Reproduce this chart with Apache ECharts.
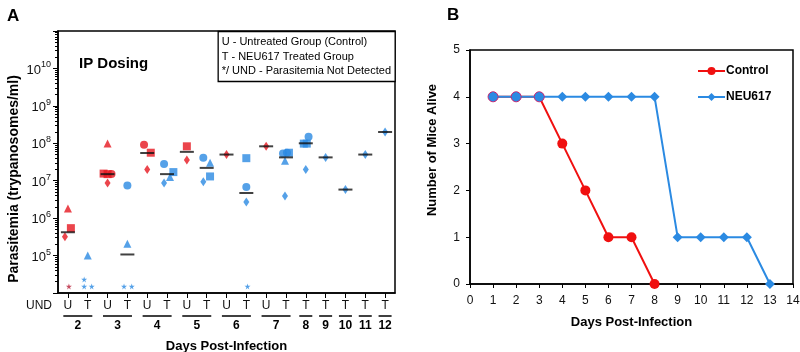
<!DOCTYPE html>
<html>
<head>
<meta charset="utf-8">
<script src="https://cdn.jsdelivr.net/npm/echarts@6/dist/echarts.min.js"></script>
<style>html,body{margin:0;padding:0;background:#fff}#main{width:800px;height:352px}</style>
</head>
<body>
<div id="main"></div>
<script>
/* Panel A: one point per mouse. x = slot index (0 = day 2 U ... 16 = day 12 T) plus a little jitter, y = trypanosomes/ml */
var SLOT_LABELS = ['U','T','U','T','U','T','U','T','U','T','U','T','T','T','T','T','T'];
var DAY_LABELS = ['2','3','4','5','6','7','8','9','10','11','12'];
var DAY_SLOTS = [2,2,2,2,2,2,1,1,1,1,1];
var EXPONENTS = [5,6,7,8,9,10];

var U_CIRCLE = [[2.2,1.5e7],[3.84,9.2e7]];
var U_SQUARE = [[0.15,5.4e5],[1.8,1.55e7],[2.0,1.5e7],[4.18,5.6e7],[6,8.3e7]];
var U_TRIANGLE = [[0,1.8e6],[2,9.8e7]];
var U_DIAMOND = [[-0.15,3.2e5],[2,8.7e6],[4,2.0e7],[6,3.6e7],[8,5.0e7],[10,8.3e7]];
var U_UND = [[0.05,1.5e4]];
var U_MEDIAN = [[0,4.2e5],[2,1.5e7],[4,5.5e7],[6,5.9e7],[8,5.0e7],[10,8.3e7]];

var T_CIRCLE = [[3,7.5e6],[4.85,2.8e7],[6.83,4.1e7],[9,6.8e6],[10.85,5.3e7],[11.05,5.6e7],[12.14,1.5e8]];
var T_SQUARE = [[5.32,1.7e7],[7.17,1.3e7],[9,4.0e7],[11.15,5.6e7],[11.9,9.8e7],[12.05,9.8e7]];
var T_TRIANGLE = [[1,1.0e5],[3,2.07e5],[5.15,1.25e7],[7.17,3.0e7],[10.95,3.4e7]];
var T_DIAMOND = [[4.85,8.7e6],[6.83,9.4e6],[9,2.7e6],[10.95,3.9e6],[12,2.0e7],[13,4.2e7],[14,5.8e6],[15,5.0e7],[16,2.0e8]];
var T_UND = [[0.82,2.3e4],[0.82,1.5e4],[1.2,1.5e4],[2.83,1.5e4],[3.22,1.5e4],[9.06,1.5e4]];
var T_MEDIAN = [[3,1.07e5],[5,1.5e7],[7,2.2e7],[9,4.7e6],[11,4.2e7],[12,1.0e8],[13,4.2e7],[14,5.8e6],[15,5.0e7],[16,2.0e8]];

/* Panel B: number of mice alive per day */
var DAYS = [1,2,3,4,5,6,7,8,9,10,11,12,13];
var CONTROL_ALIVE = [4,4,4,3,2,1,1,0];
var NEU617_ALIVE = [4,4,4,4,4,4,4,4,1,1,1,1,0];

var RED = '#e6161f';
var BLUE = '#2b8ae2';
var FONT = 'Liberation Sans, Arial, sans-serif';
var STAR = 'path://M50,0 L61,35 L98,35 L68,57 L79,91 L50,70 L21,91 L32,57 L2,35 L39,35 Z';

/* centre of each day group, in slot units */
var dayCenters = [];
var start = 0;
for (var i = 0; i < DAY_SLOTS.length; i++) {
	dayCenters.push(start + (DAY_SLOTS[i] - 1) / 2);
	start += DAY_SLOTS[i];
}
var slotValues = SLOT_LABELS.map(function (s, i) { return i; });

/* log minor ticks (2..9 x 10^n), in decade units for an overlay axis */
var minorLog = [];
for (var n = 4; n < 11; n++) {
	for (var k = 2; k <= 9; k++) minorLog.push(n + Math.log10(k));
}

function pts(name, data, symbol, size, color) {
	return {
		name: name, type: 'scatter', xAxisIndex: 0, yAxisIndex: 0,
		data: data, symbol: symbol, symbolSize: size,
		itemStyle: { color: color }, silent: true
	};
}

var ctrlData = CONTROL_ALIVE.map(function (v, i) {
	// where both groups overlap the control dot is drawn blue with a red rim
	if (NEU617_ALIVE[i] === v) {
		return { value: [DAYS[i], v], itemStyle: { color: BLUE, borderColor: '#d0206a', borderWidth: 1 } };
	}
	return [DAYS[i], v];
});
var neuData = NEU617_ALIVE.map(function (v, i) { return [DAYS[i], v]; });

var axisLine = { show: true, onZero: false, lineStyle: { color: '#000', width: 1.5 } };

var option = {
	animation: false,
	backgroundColor: '#fff',
	textStyle: { fontFamily: FONT },
	title: [
		{ text: 'A', left: 2, top: 3, textStyle: { fontSize: 17, fontWeight: 'bold', color: '#000', fontFamily: FONT } },
		{ text: 'B', left: 442, top: 2, textStyle: { fontSize: 17, fontWeight: 'bold', color: '#000', fontFamily: FONT } },
		{ text: 'IP Dosing', left: 74, top: 51, textStyle: { fontSize: 15, fontWeight: 'bold', color: '#000', fontFamily: FONT } },
		{
			text: 'U - Untreated Group (Control)\nT - NEU617 Treated Group\n*/ UND - Parasitemia Not Detected',
			right: 405, top: 31, padding: [4, 4, 3, 4],
			borderColor: '#000', borderWidth: 1.3, backgroundColor: '#fff',
			textStyle: { fontSize: 11, fontWeight: 'normal', lineHeight: 14.5, color: '#000', fontFamily: FONT }
		}
	],
	legend: {
		data: ['Control', 'NEU617'],
		orient: 'vertical', left: 692, top: 60,
		itemWidth: 27, itemHeight: 10, itemGap: 14,
		textStyle: { fontSize: 12, fontWeight: 'bold', color: '#000', fontFamily: FONT, padding: [0, 0, 0, -4] }
	},
	grid: [
		{ left: 58, top: 31, width: 337, height: 262, outerBoundsMode: 'none', show: true, borderColor: '#000', borderWidth: 1.5, backgroundColor: 'transparent' },
		{ left: 470, top: 50, width: 323, height: 234, outerBoundsMode: 'none', show: true, borderColor: '#000', borderWidth: 1.5, backgroundColor: 'transparent' }
	],
	xAxis: [
		{
			gridIndex: 0, type: 'value', min: -0.5, max: 16.5,
			axisLine: axisLine,
			axisTick: { show: true, inside: false, length: 5, customValues: slotValues, lineStyle: { color: '#000' } },
			axisLabel: {
				customValues: slotValues, margin: 7, fontSize: 12, color: '#111',
				formatter: function (v) { return SLOT_LABELS[Math.round(v)]; }
			},
			splitLine: { show: false },
			name: 'UND', nameLocation: 'start', nameGap: 6,
			nameTextStyle: { fontSize: 12, color: '#111', verticalAlign: 'top', padding: [7, 0, 0, 0] }
		},
		{
			gridIndex: 0, type: 'value', min: -0.5, max: 16.5, position: 'bottom', offset: 20,
			axisLine: { show: false }, axisTick: { show: false }, splitLine: { show: false },
			axisLabel: {
				customValues: dayCenters, margin: 2,
				formatter: function (v) {
					for (var k = 0; k < dayCenters.length; k++) {
						if (Math.abs(dayCenters[k] - v) < 1e-6) {
							return '{l' + DAY_SLOTS[k] + '| }\n{n|' + DAY_LABELS[k] + '}';
						}
					}
					return '';
				},
				rich: {
					l2: { width: 29, height: 1.5, lineHeight: 2, fontSize: 1, backgroundColor: '#000' },
					l1: { width: 13, height: 1.5, lineHeight: 2, fontSize: 1, backgroundColor: '#000' },
					n: { fontSize: 12, fontWeight: 'bold', color: '#000', lineHeight: 15, padding: [2, 0, 0, 0] }
				}
			},
			name: 'Days Post-Infection', nameLocation: 'middle', nameGap: 27,
			nameTextStyle: { fontSize: 13, fontWeight: 'bold', color: '#000' }
		},
		{
			gridIndex: 1, type: 'value', min: 0, max: 14, interval: 1,
			axisLine: axisLine,
			axisTick: { show: true, length: 4, lineStyle: { color: '#000' } },
			axisLabel: { fontSize: 12, color: '#111', margin: 11 },
			splitLine: { show: false },
			name: 'Days Post-Infection', nameLocation: 'middle', nameGap: 32,
			nameTextStyle: { fontSize: 13, fontWeight: 'bold', color: '#000' }
		}
	],
	yAxis: [
		{
			gridIndex: 0, type: 'log', logBase: 10, min: 1e4, max: 1e11, splitNumber: 7,
			axisLine: axisLine,
			axisTick: { show: true, length: 5, lineStyle: { color: '#000' } },
			axisLabel: {
				margin: 7,
				formatter: function (v) {
					var e = Math.round(Math.log10(v));
					return EXPONENTS.indexOf(e) >= 0 ? '{b|10}{s|' + e + '}' : '';
				},
				rich: {
					b: { fontSize: 13, color: '#111', verticalAlign: 'bottom' },
					s: { fontSize: 9, color: '#111', verticalAlign: 'bottom', padding: [0, 0, 7, 0] }
				}
			},
			splitLine: { show: false },
			name: 'Parasitemia (trypanosomes/ml)', nameLocation: 'middle', nameGap: 37,
			nameTextStyle: { fontSize: 14, fontWeight: 'bold', color: '#000', padding: [0, 34, 0, 0] }
		},
		{
			gridIndex: 1, type: 'value', min: 0, max: 5, interval: 1,
			axisLine: axisLine,
			axisTick: { show: true, length: 4, lineStyle: { color: '#000' } },
			axisLabel: { fontSize: 12, color: '#111', margin: 10 },
			splitLine: { show: false },
			name: 'Number of Mice Alive', nameLocation: 'middle', nameGap: 31,
			nameTextStyle: { fontSize: 13, fontWeight: 'bold', color: '#000', padding: [0, 0, 0, 34] }
		},
		{
			// overlay axis only for the log-spaced minor ticks of panel A
			gridIndex: 0, type: 'value', min: 4, max: 11, position: 'left',
			axisLine: { show: false, onZero: false }, axisLabel: { show: false }, splitLine: { show: false },
			axisTick: { show: true, length: 3, customValues: minorLog, lineStyle: { color: '#000' } }
		}
	],
	series: [
		pts('u-tri', U_TRIANGLE, 'triangle', 8, RED),
		pts('u-sq', U_SQUARE, 'rect', 8, RED),
		pts('u-circ', U_CIRCLE, 'circle', 8, RED),
		pts('u-dia', U_DIAMOND, 'diamond', [6, 9], RED),
		pts('u-und', U_UND, STAR, 6, '#b8203a'),
		pts('t-tri', T_TRIANGLE, 'triangle', 8, BLUE),
		pts('t-sq', T_SQUARE, 'rect', 8, BLUE),
		pts('t-circ', T_CIRCLE, 'circle', 8, BLUE),
		pts('t-dia', T_DIAMOND, 'diamond', [6, 9], BLUE),
		pts('t-und', T_UND, STAR, 6, BLUE),
		pts('u-med', U_MEDIAN, 'rect', [14, 2], '#111'),
		pts('t-med', T_MEDIAN, 'rect', [14, 2], '#111'),
		{
			name: 'Control', type: 'line', xAxisIndex: 2, yAxisIndex: 1,
			data: ctrlData, symbol: 'circle', symbolSize: 10, showSymbol: true,
			itemStyle: { color: '#f01010' }, lineStyle: { color: '#f01010', width: 2 }
		},
		{
			name: 'NEU617', type: 'line', xAxisIndex: 2, yAxisIndex: 1,
			data: neuData, symbol: 'diamond', symbolSize: 10, showSymbol: true,
			itemStyle: { color: BLUE }, lineStyle: { color: BLUE, width: 2 }
		}
	]
};

var chart = echarts.init(document.getElementById('main'));
chart.setOption(option);
</script>
</body>
</html>
